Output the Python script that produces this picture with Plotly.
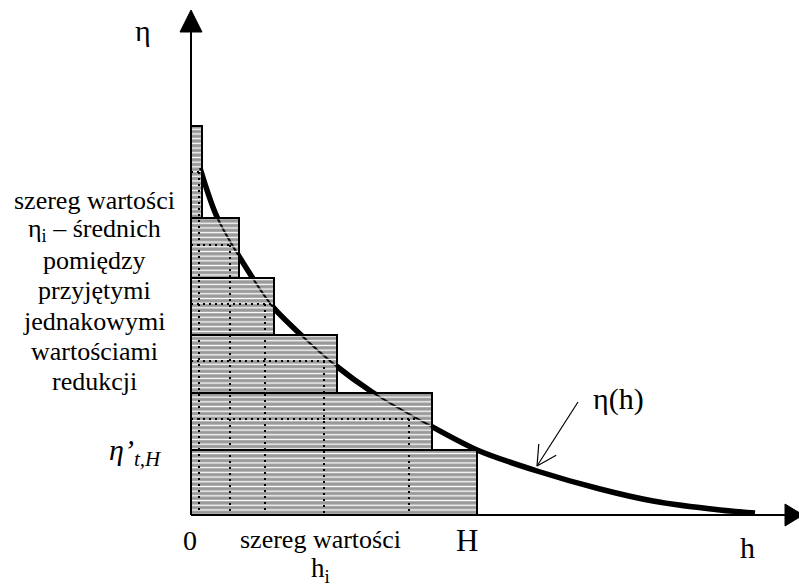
import numpy as np
import plotly.graph_objects as go

# ---------------- data ----------------
# curve eta(h)
curve_h = [0.09, 0.26, 0.61, 0.82, 1.09, 1.44, 1.81, 2.27, 2.86, 3.46, 4.09, 4.62, 5.29, 5.64]
curve_eta = [3.47, 2.98, 2.38, 2.08, 1.81, 1.50, 1.23, 0.96, 0.65, 0.44, 0.26, 0.14, 0.05, 0.02]

# stepped rectangles (bottom to top)
rect_h_right = [2.86, 2.41, 1.46, 0.83, 0.48, 0.11]
rect_eta_bottom = [0.00, 0.65, 1.22, 1.80, 2.37, 2.97]
rect_eta_top = [0.65, 1.22, 1.80, 2.37, 2.97, 3.89]

# mean values eta_i and corresponding h_i
mean_eta = [3.43, 2.70, 2.11, 1.54, 0.96]
mean_h = [0.08, 0.39, 0.74, 1.33, 2.18]
mean_h_curve = [0.09, 0.42, 0.81, 1.42, 2.27]

left_text_lines = ["szereg wartości", "η<sub>i</sub> – średnich", "pomiędzy",
                   "przyjętymi", "jednakowymi", "wartościami", "redukcji"]

# ---------------- layout constants ----------------
X_RANGE = [-1.91, 6.08]
Y_RANGE = [-0.70, 5.15]
X_AXIS_END, X_ARROW_TIP = 5.94, 6.12
Y_AXIS_END, Y_ARROW_TIP = 4.83, 5.05
ARROW_HALF = 0.11
FONT = "Liberation Serif"
GREY = "#999999"

fig = go.Figure()

# thick curve (visible outside the rectangles)
fig.add_trace(go.Scatter(x=curve_h, y=curve_eta, mode="lines",
                         line=dict(color="black", width=5.5, shape="spline", smoothing=0.8),
                         hoverinfo="skip"))

def rect_xy(i):
    x0, x1 = 0.0, rect_h_right[i]
    y0, y1 = rect_eta_bottom[i], rect_eta_top[i]
    return [x0, x1, x1, x0, x0], [y0, y0, y1, y1, y0]

# grey rectangle fills
for i in range(len(rect_h_right)):
    xs, ys = rect_xy(i)
    fig.add_trace(go.Scatter(x=xs, y=ys, mode="lines", fill="toself",
                             fillcolor=GREY, line=dict(width=0, color=GREY),
                             hoverinfo="skip"))

# thin curve showing through the rectangles
fig.add_trace(go.Scatter(x=curve_h, y=curve_eta, mode="lines",
                         line=dict(color="black", width=2, shape="spline", smoothing=0.8),
                         hoverinfo="skip"))

# white horizontal hatching + black outlines
for i in range(len(rect_h_right)):
    xs, ys = rect_xy(i)
    fig.add_trace(go.Scatter(x=xs, y=ys, mode="lines", fill="toself",
                             fillcolor="rgba(0,0,0,0)",
                             fillpattern=dict(shape="-", fgcolor="white", bgcolor="rgba(0,0,0,0)",
                                              fillmode="replace", size=4.7, solidity=0.28),
                             line=dict(width=2, color="black"),
                             hoverinfo="skip"))

# dotted guide lines
dot_style = dict(color="black", width=2, dash="2px,4px")
for e, hv, hc in zip(mean_eta, mean_h, mean_h_curve):
    fig.add_trace(go.Scatter(x=[0, hc], y=[e, e], mode="lines", line=dot_style, hoverinfo="skip"))
    fig.add_trace(go.Scatter(x=[hv, hv], y=[e, 0], mode="lines", line=dot_style, hoverinfo="skip"))

# axes with arrows
shapes = [
    dict(type="line", x0=0, y0=0, x1=X_AXIS_END, y1=0, line=dict(color="black", width=2)),
    dict(type="line", x0=0, y0=0, x1=0, y1=Y_AXIS_END, line=dict(color="black", width=2)),
    dict(type="path",
         path=f"M{X_AXIS_END},{-ARROW_HALF} L{X_ARROW_TIP},0 L{X_AXIS_END},{ARROW_HALF} Z",
         fillcolor="black", line=dict(color="black", width=1)),
    dict(type="path",
         path=f"M{-ARROW_HALF},{Y_AXIS_END} L0,{Y_ARROW_TIP} L{ARROW_HALF},{Y_AXIS_END} Z",
         fillcolor="black", line=dict(color="black", width=1)),
]

# pointer arrow to the curve
tip = np.array([3.46, 0.49])
tail = np.array([3.87, 1.13])
d = tail - tip
d = d / np.linalg.norm(d)
legs = []
for ang in (np.radians(28), -np.radians(28)):
    R = np.array([[np.cos(ang), -np.sin(ang)], [np.sin(ang), np.cos(ang)]])
    legs.append(tip + 0.22 * (R @ d))
ax_x = [tail[0], tip[0], None, legs[0][0], tip[0], legs[1][0]]
ax_y = [tail[1], tip[1], None, legs[0][1], tip[1], legs[1][1]]
fig.add_trace(go.Scatter(x=ax_x, y=ax_y, mode="lines",
                         line=dict(color="black", width=1.2), hoverinfo="skip"))

# text
ann = []
def txt(x, y, t, size=26, xanchor="center"):
    ann.append(dict(x=x, y=y, text=t, showarrow=False, xanchor=xanchor, yanchor="middle",
                    font=dict(family=FONT, size=size, color="black")))

txt(-0.48, 4.85, "η", 30)
txt(-0.01, -0.25, "0", 28)
txt(1.29, -0.24, "szereg wartości", 26)
txt(1.29, -0.55, "h<sub>i</sub>", 27)
txt(2.76, -0.25, "H", 31)
txt(5.56, -0.32, "h", 30)
txt(4.27, 1.16, "η(h)", 30)
txt(-0.84, 0.63, "<i>η’<sub>t,H</sub></i>", 30, xanchor="left")
for k, line in enumerate(left_text_lines):
    txt(-0.97, 3.15 - 0.303 * k, line, 26)

fig.update_layout(
    width=799, height=585,
    margin=dict(l=0, r=0, t=0, b=0),
    paper_bgcolor="white", plot_bgcolor="white",
    showlegend=False,
    font=dict(family=FONT),
    xaxis=dict(range=X_RANGE, visible=False, fixedrange=True),
    yaxis=dict(range=Y_RANGE, visible=False, fixedrange=True),
    shapes=shapes,
    annotations=ann,
)

fig.write_html("out.html", config={"displayModeBar": False},
               post_script="document.body.style.margin='0px';")
